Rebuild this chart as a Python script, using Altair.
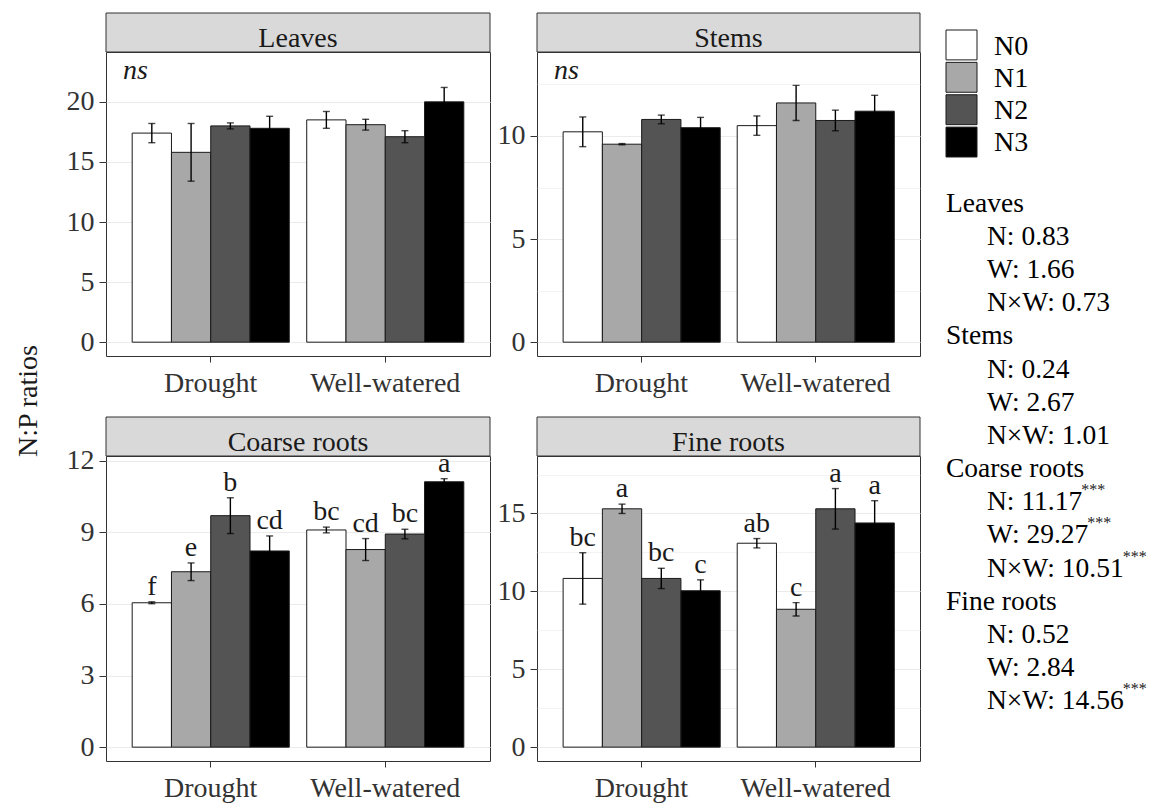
import altair as alt
import pandas as pd

# Treatment levels, watering regimes and bar fills
levels = ["N0", "N1", "N2", "N3"]
water = ["Drought", "Well-watered"]
level_fill = ["#ffffff", "#a8a8a8", "#545454", "#000000"]

# N:P ratios (mean and standard error), Drought N0..N3 then Well-watered N0..N3
leaves_mean = [17.4, 15.8, 18.0, 17.8, 18.5, 18.1, 17.1, 20.0]
leaves_se = [0.8, 2.4, 0.25, 1.0, 0.7, 0.45, 0.5, 1.2]
stems_mean = [10.2, 9.6, 10.8, 10.4, 10.5, 11.6, 10.75, 11.2]
stems_se = [0.72, 0.03, 0.21, 0.5, 0.47, 0.85, 0.5, 0.77]
coarse_mean = [6.05, 7.35, 9.7, 8.22, 9.1, 8.28, 8.93, 11.12]
coarse_se = [0.04, 0.37, 0.75, 0.63, 0.12, 0.46, 0.2, 0.13]
coarse_letters = ["f", "e", "b", "cd", "bc", "cd", "bc", "a"]
fine_mean = [10.83, 15.3, 10.83, 10.04, 13.09, 8.85, 15.3, 14.39]
fine_se = [1.65, 0.3, 0.65, 0.7, 0.3, 0.43, 1.3, 1.43]
fine_letters = ["bc", "a", "bc", "c", "ab", "c", "a", "a"]

# Two-way ANOVA F values and significance marks
organs = ["Leaves", "Stems", "Coarse roots", "Fine roots"]
f_n = ["0.83", "0.24", "11.17", "0.52"]
f_w = ["1.66", "2.67", "29.27", "2.84"]
f_nw = ["0.73", "1.01", "10.51", "14.56"]
sig_n = ["", "", "***", ""]
sig_w = ["", "", "***", ""]
sig_nw = ["", "", "***", "***"]

FONT = "Liberation Serif"
FS = 28
INK = "#1a1a1a"
fill_scale = alt.Scale(domain=levels, range=level_fill)
STRIP_H = 39


def panel(name, mean, se, dom, step, width, height, letters=None, note=None):
    rows = pd.DataFrame({
        "water": [w for w in water for _ in levels],
        "level": levels * len(water),
        "mean": mean,
        "se": se,
    })
    rows["lo"] = rows["mean"] - rows["se"]
    rows["hi"] = rows["mean"] + rows["se"]
    if letters:
        rows["letter"] = letters

    major = list(range(0, int(dom[1]) + 1, step))
    minor = [m + step / 2 for m in major if m + step / 2 < dom[1]]
    minor_test = f"abs(datum.value % {step}) > 1e-6"

    yscale = alt.Scale(domain=dom, nice=False, zero=False)
    yaxis = alt.Axis(
        values=major + minor,
        labelExpr=f"{minor_test} ? '' : datum.label",
        labelOverlap=False,
        labelFont=FONT,
        tickOpacity={"condition": {"test": minor_test, "value": 0}, "value": 1},
        gridWidth={"condition": {"test": minor_test, "value": 0.6}, "value": 1.2},
    )
    xenc = alt.X("water:N", title=None,
                 scale=alt.Scale(domain=water, paddingInner=0.1, paddingOuter=0.15),
                 axis=alt.Axis(labelAngle=0, tickSize=6, labelPadding=7, labelFont=FONT))
    xoff = alt.XOffset("level:N", scale=alt.Scale(domain=levels, paddingInner=0, paddingOuter=0))

    base = alt.Chart(rows).encode(x=xenc, xOffset=xoff)
    bars = base.mark_bar(stroke=INK, strokeWidth=1).encode(
        y=alt.Y("mean:Q", scale=yscale, axis=yaxis, title=None),
        y2=alt.datum(0),
        fill=alt.Fill("level:N", scale=fill_scale, legend=None),
    )
    whisk = base.mark_rule(color="black", strokeWidth=1.4).encode(
        y=alt.Y("lo:Q", scale=yscale, title=None), y2="hi:Q")
    cap_hi = base.mark_tick(color="black", thickness=1.4, size=7).encode(
        y=alt.Y("hi:Q", scale=yscale, title=None))
    cap_lo = base.mark_tick(color="black", thickness=1.4, size=7).encode(
        y=alt.Y("lo:Q", scale=yscale, title=None))
    layers = [bars, whisk, cap_hi, cap_lo]

    if letters:
        layers.append(base.mark_text(font=FONT, fontSize=FS, baseline="alphabetic", dy=-7, color=INK).encode(
            y=alt.Y("hi:Q", scale=yscale, title=None), text="letter:N"))

    label = pd.DataFrame({"name": [name], "note": [note or ""]})
    strip_box = alt.Chart(label).mark_rect(fill="#d9d9d9", stroke="#333333", strokeWidth=1).encode(
        x=alt.value(0), x2=alt.value(width), y=alt.value(-STRIP_H), y2=alt.value(0))
    strip_txt = alt.Chart(label).mark_text(font=FONT, fontSize=FS, baseline="alphabetic", color=INK).encode(
        x=alt.value(width / 2), y=alt.value(-5), text="name:N")
    layers += [strip_box, strip_txt]
    if note:
        layers.append(alt.Chart(label).mark_text(
            font=FONT, fontSize=FS, fontStyle="italic", align="left", baseline="middle", color=INK
        ).encode(x=alt.value(17), y=alt.value(19), text="note:N"))

    return alt.layer(*layers).properties(
        width=width, height=height,
        view=alt.ViewBackground(stroke="#333333", strokeWidth=1, fill="white"),
    )


leaves = panel("Leaves", leaves_mean, leaves_se, [-1.15, 24.15], 5, 384, 304, note="ns")
stems = panel("Stems", stems_mean, stems_se, [-0.67, 14.07], 5, 383, 304, note="ns")
coarse = panel("Coarse roots", coarse_mean, coarse_se, [-0.58, 12.2], 3, 384, 305, letters=coarse_letters)
fine = panel("Fine roots", fine_mean, fine_se, [-0.89, 18.69], 5, 383, 305, letters=fine_letters)

grid = alt.vconcat(
    alt.hconcat(leaves, stems, spacing=5),
    alt.hconcat(coarse, fine, spacing=5),
    spacing=18,
)

# Shared y-axis title (origin sits at the top of the upper plot areas)
ytitle = alt.Chart(pd.DataFrame({"t": ["N:P ratios"]})).mark_text(
    font=FONT, angle=270, fontSize=28, baseline="alphabetic", align="center", color=INK
).encode(x=alt.value(37), y=alt.value(349), text="t:N").properties(
    width=43, height=700, view=alt.ViewBackground(stroke=None))

# Legend keys and ANOVA summary
legend_df = pd.DataFrame({"level": levels})
leg_y = alt.Y("level:N", axis=None,
              scale=alt.Scale(domain=levels, range=[-22, 105], paddingInner=0.077, paddingOuter=0))
leg_box = alt.Chart(legend_df).mark_rect(stroke=INK, strokeWidth=1).encode(
    x=alt.value(3), x2=alt.value(34), y=leg_y,
    fill=alt.Fill("level:N", scale=fill_scale, legend=None))
leg_txt = alt.Chart(legend_df).mark_text(
    font=FONT, fontSize=FS, align="left", baseline="alphabetic", dy=9.5, color="black"
).encode(x=alt.value(51), y=leg_y, text="level:N")

# Approximate advance widths (em) for placing superscripts after the F values
ADV = {"N": 0.722, "W": 0.944, "×": 0.564, ":": 0.278, " ": 0.25, ".": 0.25}
SFS = 27.5
INDENT = 41


def text_width(s, size):
    return sum(ADV.get(c, 0.5) for c in s) * size


stat_rows = []
for organ, a, b, c, sa, sb, sc in zip(organs, f_n, f_w, f_nw, sig_n, sig_w, sig_nw):
    stat_rows.append((organ, "", 3))
    for lab, val, sig in (("N", a, sa), ("W", b, sb), ("N×W", c, sc)):
        stat_rows.append((f"{lab}: {val}", sig, 3 + INDENT))
stats = pd.DataFrame(stat_rows, columns=["txt", "sig", "tx"])
stats["row"] = range(len(stats))
stats["sx"] = [tx + text_width(t, SFS) - 2 if s else tx
               for t, s, tx in zip(stats["txt"], stats["sig"], stats["tx"])]

st_y = alt.Y("row:O", axis=None,
             scale=alt.Scale(type="point", domain=list(range(len(stats))), range=[159.7, 657.3], padding=0))
st_txt = alt.Chart(stats).mark_text(font=FONT, fontSize=SFS, align="left", baseline="alphabetic", color="black").encode(
    x=alt.X("tx:Q", scale=None), y=st_y, text="txt:N")
st_sig = alt.Chart(stats).mark_text(font=FONT, fontSize=16, align="left", baseline="alphabetic", dy=-15,
                                    color="#222222").encode(
    x=alt.X("sx:Q", scale=None), y=st_y, text="sig:N")

side = alt.layer(leg_box, leg_txt, st_txt, st_sig).resolve_scale(y="independent").properties(
    width=200, height=670, view=alt.ViewBackground(stroke=None))

chart = alt.hconcat(ytitle, grid, side, spacing=22).properties(
    padding={"left": 0, "top": 12, "right": 0, "bottom": 0},
    background="white",
).configure(font=FONT).configure_axis(
    domain=False,
    labelFontSize=FS,
    labelColor="#333333",
    labelFont=FONT,
    tickColor="#333333",
    tickWidth=1,
    gridColor="#ebebeb",
).configure_axisY(tickSize=7, labelPadding=5).configure_view(stroke=None)

chart.save("out.html", embed_options={"renderer": "svg", "actions": False})
